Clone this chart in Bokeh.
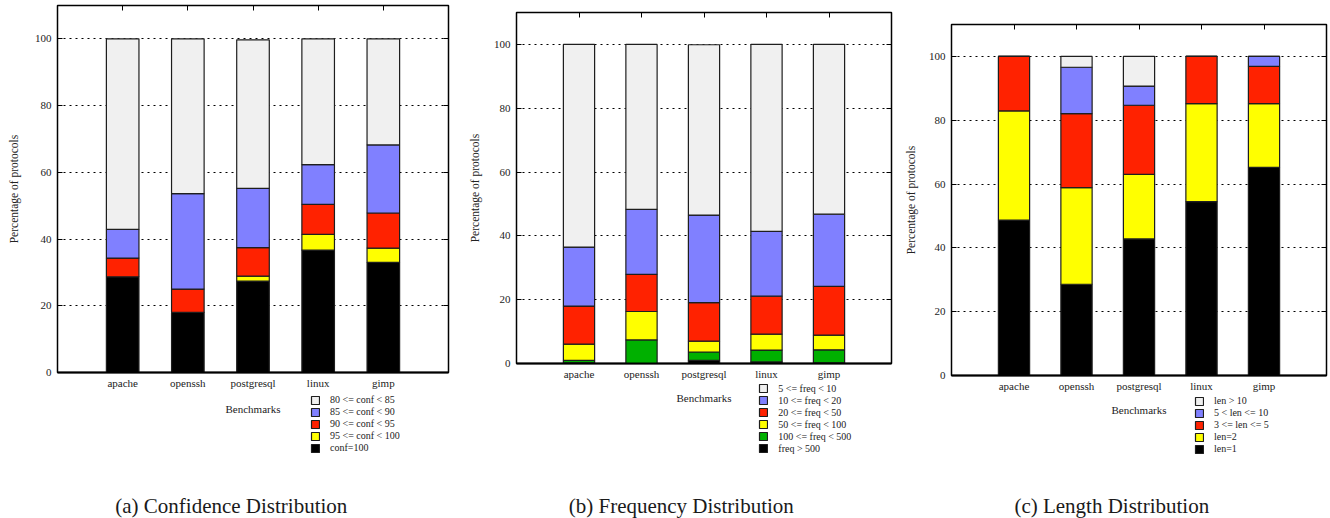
from bokeh.plotting import figure
from bokeh.models import (Range1d, FixedTicker, LinearAxis, Legend, LegendItem,
                          Label, ColumnDataSource, CustomJSTickFormatter)
from bokeh.layouts import row, column
from bokeh.embed import file_html
from bokeh.resources import INLINE

# ---------------- data ----------------
categories = ["apache", "openssh", "postgresql", "linux", "gimp"]
y_ticks = [0, 20, 40, 60, 80, 100]

# (a) confidence distribution (segment sizes, % of protocols)
conf_100 = [28.7, 18.0, 27.4, 36.7, 33.0]
conf_95_100 = [0.0, 0.0, 1.5, 4.7, 4.3]
conf_90_95 = [5.6, 7.0, 8.5, 9.0, 10.5]
conf_85_90 = [8.6, 28.6, 17.8, 11.9, 20.4]
conf_80_85 = [57.1, 46.4, 44.5, 37.7, 31.8]
conf_labels = ["conf=100", "95 <= conf < 100", "90 <= conf < 95",
               "85 <= conf < 90", "80 <= conf < 85"]

# (b) frequency distribution
freq_500 = [0.2, 0.0, 1.0, 0.5, 0.2]
freq_100_500 = [0.8, 7.4, 2.6, 3.7, 4.1]
freq_50_100 = [5.1, 8.9, 3.4, 5.0, 4.6]
freq_20_50 = [11.9, 11.6, 12.1, 11.9, 15.3]
freq_10_20 = [18.5, 20.4, 27.4, 20.3, 22.6]
freq_5_10 = [63.5, 51.7, 53.4, 58.6, 53.2]
freq_labels = ["freq > 500", "100 <= freq < 500", "50 <= freq < 100",
               "20 <= freq < 50", "10 <= freq < 20", "5 <= freq < 10"]

# (c) length distribution
len_1 = [48.7, 28.6, 42.8, 54.5, 65.2]
len_2 = [34.2, 30.3, 20.2, 30.7, 20.0]
len_3_5 = [17.1, 23.2, 21.7, 14.8, 11.7]
len_5_10 = [0.0, 14.5, 6.0, 0.0, 3.1]
len_10 = [0.0, 3.4, 9.3, 0.0, 0.0]
len_labels = ["len=1", "len=2", "3 <= len <= 5", "5 < len <= 10", "len > 10"]

GREY = "#f0f0f0"
BLUE = "#8080ff"
RED = "#ff2200"
YELLOW = "#ffff00"
GREEN = "#00b000"
BLACK = "#000000"

FONT = "Liberation Serif"
TXT = "#222222"
EDGE = "#1e1e1e"
PAGE_H = 518


def make_source(series):
    data = {"x": list(range(1, len(categories) + 1))}
    names = []
    for i, s in enumerate(series):
        n = "s%d" % i
        data[n] = s
        names.append(n)
    return ColumnDataSource(data), names


def chart(src, names, colors, fig_w, bl, frame_w, bt, frame_h, ymax, label_standoff):
    xpos = list(range(1, len(categories) + 1))
    br = fig_w - bl - frame_w
    p = figure(frame_width=frame_w, frame_height=frame_h,
               x_range=Range1d(0, len(categories) + 1), y_range=Range1d(0, ymax),
               output_backend="svg", toolbar_location=None,
               min_border_left=bl, min_border_right=br,
               min_border_top=bt, min_border_bottom=18,
               background_fill_color="white", border_fill_color="white")
    p.frame_align = False
    p.outline_line_color = "black"
    p.outline_line_width = 1.5

    p.vbar_stack(names, x="x", width=0.5, source=src,
                 fill_color=colors, line_color=EDGE, line_width=1.2)

    p.xgrid.visible = False
    p.ygrid.ticker = FixedTicker(ticks=y_ticks)
    p.ygrid.grid_line_color = "black"
    p.ygrid.grid_line_dash = "2 4"
    p.ygrid.grid_line_width = 1

    ax = p.xaxis[0]
    ax.ticker = FixedTicker(ticks=xpos)
    ax.major_label_overrides = {x: c for x, c in zip(xpos, categories)}
    ax.major_tick_in = 0
    ax.major_tick_out = 0
    ax.minor_tick_in = 0
    ax.minor_tick_out = 0
    ax.axis_line_color = "black"
    ax.axis_line_width = 2
    ax.major_label_standoff = 4
    ax.major_label_text_font = FONT
    ax.major_label_text_font_size = "11px"
    ax.major_label_text_color = TXT

    ay = p.yaxis[0]
    ay.ticker = FixedTicker(ticks=y_ticks)
    ay.major_tick_in = 5
    ay.major_tick_out = 0
    ay.minor_tick_in = 0
    ay.minor_tick_out = 0
    ay.axis_line_color = None
    ay.major_label_standoff = 6
    ay.major_label_text_font = FONT
    ay.major_label_text_font_size = "11px"
    ay.major_label_text_color = TXT
    ay.axis_label = "Percentage of protocols"
    ay.axis_label_text_font = FONT
    ay.axis_label_text_font_size = "11.5px"
    ay.axis_label_text_font_style = "normal"
    ay.axis_label_text_color = TXT
    ay.axis_label_standoff = label_standoff

    top = LinearAxis(ticker=FixedTicker(ticks=xpos), major_tick_in=5,
                     major_tick_out=0, minor_tick_in=0, minor_tick_out=0,
                     formatter=CustomJSTickFormatter(code="return ''"),
                     major_label_standoff=0, axis_line_color=None)
    p.add_layout(top, "above")
    right = LinearAxis(ticker=FixedTicker(ticks=y_ticks), major_tick_in=5,
                       major_tick_out=0, minor_tick_in=0, minor_tick_out=0,
                       formatter=CustomJSTickFormatter(code="return ''"),
                       major_label_standoff=0, axis_line_color=None)
    p.add_layout(right, "right")
    return p


def footer(src, names, labels, colors, fig_w, fig_h, xlabel_xy, legend_loc,
           caption, caption_xy):
    p = figure(frame_width=fig_w, frame_height=fig_h,
               x_range=Range1d(0, 1), y_range=Range1d(0, 1),
               x_axis_type=None, y_axis_type=None,
               output_backend="svg", toolbar_location=None,
               min_border=0, min_border_left=0, min_border_right=0,
               min_border_top=0, min_border_bottom=0,
               background_fill_color="white", border_fill_color="white")
    p.frame_align = False
    p.outline_line_color = None
    p.grid.visible = False

    # hidden copies of the stacked bars, used only for the legend swatches
    rends = p.vbar_stack(names, x="x", width=0.5, source=src,
                         fill_color=colors, line_color=EDGE, line_width=1.2)
    for r in rends:
        r.visible = False
    items = [LegendItem(label=lab, renderers=[r])
             for lab, r in reversed(list(zip(labels, rends)))]
    leg = Legend(items=items, location=legend_loc, orientation="vertical",
                 glyph_width=10, glyph_height=10, label_height=10,
                 label_standoff=10, spacing=1, padding=0, margin=0,
                 border_line_color=None, background_fill_alpha=0,
                 inactive_fill_alpha=0,
                 label_text_font=FONT, label_text_font_size="10px",
                 label_text_color=TXT)
    p.add_layout(leg)

    p.add_layout(Label(x=xlabel_xy[0], y=xlabel_xy[1], x_units="screen",
                       y_units="screen", text="Benchmarks", text_align="center",
                       text_baseline="alphabetic", text_font=FONT,
                       text_font_size="11px", text_color=TXT))
    p.add_layout(Label(x=caption_xy[0], y=caption_xy[1], x_units="screen",
                       y_units="screen", text=caption, text_align="center",
                       text_baseline="alphabetic", text_font=FONT,
                       text_font_size="21px", text_color="#1a1a1a"))
    return p


# (a)
sa, na = make_source([conf_100, conf_95_100, conf_90_95, conf_85_90, conf_80_85])
cols_a = [BLACK, YELLOW, RED, BLUE, GREY]
ca = chart(sa, na, cols_a, 452, 57, 391, 5, 367, 110, 12)
fa = footer(sa, na, conf_labels, cols_a, 452, PAGE_H - 390,
            (252.5, 110.5), (310, 66), "(a) Confidence Distribution", (230.8, 13.5))
# (b)
sb, nb = make_source([freq_500, freq_100_500, freq_50_100, freq_20_50, freq_10_20, freq_5_10])
cols_b = [BLACK, GREEN, YELLOW, RED, BLUE, GREY]
cb = chart(sb, nb, cols_b, 441, 64, 375, 12, 351, 110, 10)
fb = footer(sb, nb, freq_labels, cols_b, 441, PAGE_H - 381,
            (251.5, 122), (306.3, 65.5), "(b) Frequency Distribution", (228.8, 14))
# (c)
sc, nc = make_source([len_1, len_2, len_3_5, len_5_10, len_10])
cols_c = [BLACK, YELLOW, RED, BLUE, GREY]
cc = chart(sc, nc, cols_c, 435, 58, 375, 24, 351, 110, 9)
fc = footer(sc, nc, len_labels, cols_c, 435, PAGE_H - 393,
            (245.5, 109.7), (301, 64.8), "(c) Length Distribution", (218.3, 14))

layout = row(column(ca, fa, spacing=0), column(cb, fb, spacing=0),
             column(cc, fc, spacing=0), spacing=0)
open("out.html", "w").write(file_html(layout, INLINE))
